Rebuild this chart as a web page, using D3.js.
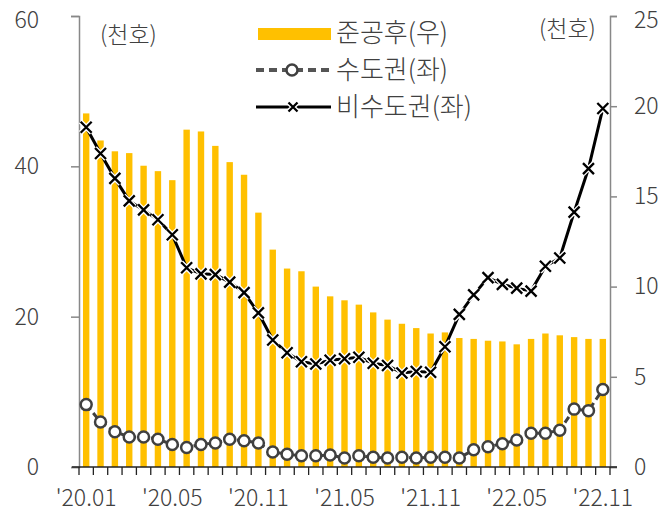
<!DOCTYPE html>
<html>
<head>
<meta charset="utf-8">
<script src="https://cdn.jsdelivr.net/npm/d3@7"></script>
<style>
  body { margin: 0; background: #fff; }
  svg text { font-family: "Noto Sans CJK KR", "Noto Sans", sans-serif; fill: #404040; font-weight: 300; }
</style>
</head>
<body>
<div id="chart"></div>
<script>
// 37 monthly points, labelled every 6th
var tickLabels = ["'20.01", "'20.05", "'20.11", "'21.05", "'21.11", "'22.05", "'22.11"];

// 준공후 미분양 (right axis, 천호)
var completed = [19.6, 18.1, 17.5, 17.4, 16.7, 16.4, 15.9, 18.7, 18.6, 17.8, 16.9, 16.2, 14.1,
  12.05, 11.0, 10.85, 10.0, 9.46, 9.24, 9.0, 8.57, 8.17, 7.94, 7.7, 7.4, 7.46, 7.15,
  7.1, 7.0, 6.96, 6.8, 7.1, 7.4, 7.3, 7.2, 7.1, 7.1];
// 수도권 (left axis)
var capital = [8.3, 6.0, 4.7, 4.0, 4.0, 3.7, 3.0, 2.6, 3.0, 3.2, 3.7, 3.5, 3.2,
  2.0, 1.7, 1.5, 1.5, 1.6, 1.2, 1.5, 1.3, 1.2, 1.3, 1.2, 1.3, 1.3, 1.2,
  2.3, 2.7, 3.1, 3.6, 4.5, 4.5, 4.9, 7.7, 7.5, 10.3];
// 비수도권 (left axis)
var nonCapital = [45.2, 41.7, 38.4, 35.4, 34.2, 32.9, 30.9, 26.5, 25.7, 25.6, 24.6, 23.2, 20.5,
  16.9, 15.2, 14.0, 13.7, 14.2, 14.4, 14.6, 13.8, 13.5, 12.5, 12.7, 12.6, 16.0, 20.3,
  22.9, 25.2, 24.3, 23.8, 23.4, 26.7, 27.8, 33.9, 39.7, 47.7];

var leftTicks = [0, 20, 40, 60];
var rightTicks = [0, 5, 10, 15, 20, 25];

var width = 670, height = 514;
var svg = d3.select("#chart").append("svg").attr("width", width).attr("height", height);

var x = d3.scaleBand().domain(d3.range(completed.length)).range([79, 610]);
var yL = d3.scaleLinear().domain([0, 60]).range([467, 16]);
var yR = d3.scaleLinear().domain([0, 25]).range([467, 16]);
var cx = function(i){ return x(i) + x.bandwidth() / 2; };

// bars
svg.append("g").selectAll("rect").data(completed).enter().append("rect")
	.attr("x", function(d, i){ return cx(i) - 3.2; })
	.attr("width", 6.4)
	.attr("y", function(d){ return yR(d); })
	.attr("height", function(d){ return yR(0) - yR(d); })
	.attr("fill", "#FFC000");

// left axis
var gL = svg.append("g").attr("transform", "translate(79,0)")
	.call(d3.axisLeft(yL).tickValues(leftTicks).tickSize(8).tickPadding(32));
gL.select(".domain").attr("stroke", "#888").attr("stroke-width", 1.5);
gL.selectAll(".tick line").attr("stroke", "#888").attr("stroke-width", 1.5);
gL.selectAll(".tick text").style("font-size", "23px").attr("fill", "#404040");

// right axis
var gR = svg.append("g").attr("transform", "translate(610,0)")
	.call(d3.axisRight(yR).tickValues(rightTicks).tickSize(7).tickPadding(17));
gR.select(".domain").attr("stroke", "#888").attr("stroke-width", 1.5);
gR.selectAll(".tick line").attr("stroke", "#888").attr("stroke-width", 1.5);
gR.selectAll(".tick text").style("font-size", "23px").attr("fill", "#404040");

// top labels sit right at the edge, nudge them down a bit
gL.selectAll(".tick").filter(function(d){ return d === 60; }).select("text").attr("dy", "0.5em");
gR.selectAll(".tick").filter(function(d){ return d === 25; }).select("text").attr("dy", "0.5em");

// bottom axis: ticks at band edges
var gB = svg.append("g");
gB.append("line").attr("x1", 72).attr("x2", 617).attr("y1", 467).attr("y2", 467)
	.attr("stroke", "#222").attr("stroke-width", 1.5);
gB.selectAll("line.t").data(d3.range(completed.length + 1)).enter().append("line")
	.attr("class", "t")
	.attr("x1", function(i){ return 79 + i * x.step(); })
	.attr("x2", function(i){ return 79 + i * x.step(); })
	.attr("y1", 467).attr("y2", 475)
	.attr("stroke", "#222").attr("stroke-width", 1.3);
gB.selectAll("text").data(tickLabels).enter().append("text")
	.attr("x", function(d, i){ return cx(i * 6); })
	.attr("y", 506)
	.attr("text-anchor", "middle")
	.style("font-size", "23px")
	.text(function(d){ return d; });

// 수도권 line
var lineL = d3.line().x(function(d, i){ return cx(i); }).y(function(d){ return yL(d); });
svg.append("path").datum(capital).attr("d", lineL)
	.attr("fill", "none").attr("stroke", "#404040").attr("stroke-width", 3)
	.attr("stroke-dasharray", "7,4");
svg.append("g").selectAll("circle").data(capital).enter().append("circle")
	.attr("cx", function(d, i){ return cx(i); })
	.attr("cy", function(d){ return yL(d); })
	.attr("r", 5.5)
	.attr("fill", "#fff").attr("stroke", "#404040").attr("stroke-width", 2.5);

// 비수도권 line
svg.append("path").datum(nonCapital).attr("d", lineL)
	.attr("fill", "none").attr("stroke", "#000").attr("stroke-width", 3);
var cross = function(g, px, py, s){
	var p = "M" + (px - s) + "," + (py - s) + "L" + (px + s) + "," + (py + s) +
		"M" + (px + s) + "," + (py - s) + "L" + (px - s) + "," + (py + s);
	g.append("path").attr("d", p).attr("stroke", "#fff").attr("stroke-width", 5);
	g.append("path").attr("d", p).attr("stroke", "#000").attr("stroke-width", 2.3);
};
var gx = svg.append("g");
nonCapital.forEach(function(d, i){ cross(gx, cx(i), yL(d), 5.5); });

// unit labels
svg.append("text").attr("x", 100).attr("y", 43).style("font-size", "23px").text("(천호)");
svg.append("text").attr("x", 539).attr("y", 37).style("font-size", "23px").text("(천호)");

// legend
var lg = svg.append("g");
lg.append("rect").attr("x", 258).attr("y", 28).attr("width", 73).attr("height", 12).attr("fill", "#FFC000");
lg.append("text").attr("x", 336).attr("y", 42).style("font-size", "26px").text("준공후(우)");
lg.append("line").attr("x1", 256).attr("x2", 331).attr("y1", 70).attr("y2", 70)
	.attr("stroke", "#555").attr("stroke-width", 4).attr("stroke-dasharray", "8,5");
lg.append("circle").attr("cx", 292).attr("cy", 70).attr("r", 5.5)
	.attr("fill", "#fff").attr("stroke", "#404040").attr("stroke-width", 2.5);
lg.append("text").attr("x", 336).attr("y", 79).style("font-size", "26px").text("수도권(좌)");
lg.append("line").attr("x1", 256).attr("x2", 331).attr("y1", 107).attr("y2", 107)
	.attr("stroke", "#000").attr("stroke-width", 3);
cross(lg, 293, 107, 4.5);
lg.append("text").attr("x", 336).attr("y", 116).style("font-size", "26px").text("비수도권(좌)");
</script>
</body>
</html>
